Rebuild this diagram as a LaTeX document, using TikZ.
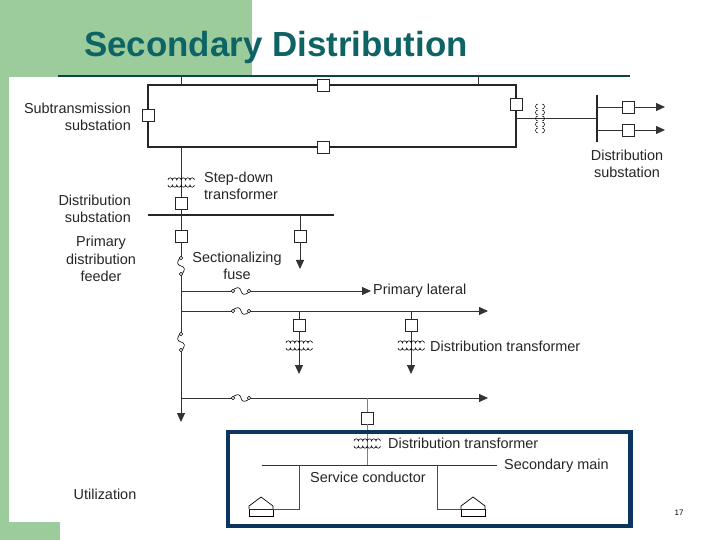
\documentclass[tikz,border=0pt]{standalone}
\usepackage{fontspec}
\setmainfont{Liberation Sans}
\usetikzlibrary{arrows.meta}
\definecolor{gr}{HTML}{9CCB9C}
\definecolor{teal}{HTML}{0E6464}
\definecolor{navy}{HTML}{0B3560}
\begin{document}
\begin{tikzpicture}[x=1bp,y=-1bp,
  lbl/.style={font=\fontsize{14.5}{17.5}\selectfont,text=black!85,inner sep=1pt,align=center},
  ln/.style={line width=0.8pt,black!80},
  brk/.style={draw=black!85,fill=white,minimum size=12bp,inner sep=0,line width=0.7pt},
  arr/.style={ln,-{Triangle[length=9bp,width=8bp]}},
  coil/.pic={\draw[line width=0.6pt] (-13,-2) arc(180:0:2.2bp) arc(180:0:2.2bp) arc(180:0:2.2bp) arc(180:0:2.2bp) arc(180:0:2.2bp) arc(180:0:2.2bp);
             \draw[line width=0.6pt] (-13,3) arc(180:360:2.2bp) arc(180:360:2.2bp) arc(180:360:2.2bp) arc(180:360:2.2bp) arc(180:360:2.2bp) arc(180:360:2.2bp);},
  hfuse/.pic={\fill[white] (-9,-3) rectangle (9,3);\draw[line width=0.6pt] (-9,0) .. controls (-4,-5) and (-1,-4) .. (0,0) .. controls (1,4) and (4,5) .. (9,0); \draw[line width=0.5pt,fill=white] (-8,0) circle(1.8bp) (8,0) circle(1.8bp);},
  vfuse/.pic={\fill[white] (-3,-9) rectangle (3,9);\draw[line width=0.6pt] (0,-9) .. controls (-5,-4) and (-4,-1) .. (0,0) .. controls (4,1) and (5,4) .. (0,9); \draw[line width=0.5pt,fill=white] (0,-8) circle(1.8bp) (0,8) circle(1.8bp);},
  house/.pic={\draw[line width=0.7pt,fill=white] (-12,0) rectangle (12,-7); \draw[line width=0.7pt,fill=white] (-12,-7) -- (-12,-10) -- (0,-19) -- (12,-10) -- (12,-7);}
]
\useasboundingbox (0,0) rectangle (720,540);
\fill[white] (0,0) rectangle (720,540);
\fill[gr] (0,0) rectangle (252,77);
\fill[gr] (0,0) rectangle (9,540);
\fill[gr] (0,522) rectangle (60,540);
\draw[teal!70!black,line width=1.3pt] (58,76) -- (630,76);
\node[font=\bfseries\fontsize{35}{38}\selectfont,text=teal] (title) at (276,47) {Secondary Distribution};

% ring
\draw[line width=1.6pt,black!85] (148,85) rectangle (516,147);
\draw[ln] (181,76) -- (181,85) (478,76) -- (478,85);
\node[brk] (b1) at (323,85) {};
\node[brk] (b2) at (148,115) {};
\node[brk] (b3) at (323,147) {};
\node[brk] (b4) at (516,104) {};
\node[lbl,align=right,anchor=east] (subt) at (132,117) {Subtransmission\\substation};

% right distribution substation
\coordinate (rt) at (516,118);
\coordinate (rb) at (597,118);
\draw[ln] (rt) -- (rb);
\foreach \yy in {104,110,116,122,128}{\draw[line width=0.5pt] (542,\yy) arc(90:-90:2.5bp); \draw[line width=0.5pt] (538,\yy) arc(90:270:2.5bp);}
\draw[line width=1.2pt,black!85] (597,95) -- (597,142);
\node[brk] (d1) at (628,107) {};
\node[brk] (d2) at (628,130) {};
\coordinate (e1) at (665,107);
\coordinate (e2) at (665,130);
\draw[arr] (597,107) -- (d1) -- (e1);
\draw[arr] (597,130) -- (d2) -- (e2);
\node[lbl] (ds) at (627,164) {Distribution\\substation};

% step-down
\node[brk] (sd) at (181,203) {};
\draw[ln] (181,147) -- (sd);
\pic at (181,182) {coil};
\node[lbl,align=left,anchor=west] (sdt) at (203,186) {Step-down\\transformer};
\draw[line width=1.4pt,black!85] (148,215) -- (334,215);
\draw[ln] (sd) -- (181,215);
\node[lbl,align=right,anchor=east] (dsub) at (132,209) {Distribution\\substation};

% branches from bus
\node[brk] (p1) at (181,236) {};
\node[brk] (p2) at (300,236) {};
\coordinate (p2e) at (300,269);
\draw[ln] (181,215) -- (p1);
\draw[arr] (300,215) -- (p2) -- (p2e);
\node[lbl] (pdf) at (101,259) {Primary\\distribution\\feeder};
\coordinate (mainend) at (181,422);
\draw[arr] (p1) -- (mainend);
\pic at (181,266) {vfuse};
\pic at (181,342) {vfuse};
\node[lbl] (sfu) at (237,266) {Sectionalizing\\fuse};

% laterals
\coordinate (l1) at (371,291);
\draw[arr] (181,291) -- (l1);
\pic at (241,291) {hfuse};
\node[lbl,anchor=west] (pl) at (372,291) {Primary lateral};
\coordinate (l2) at (488,311);
\draw[arr] (181,311) -- (l2);
\pic at (241,311) {hfuse};
\node[brk] (t1) at (299,325) {};
\node[brk] (t2) at (411,325) {};
\coordinate (t1e) at (299,374);
\coordinate (t2e) at (411,374);
\draw[arr] (299,311) -- (t1) -- (t1e);
\draw[arr] (411,311) -- (t2) -- (t2e);
\pic at (299,345) {coil};
\pic at (411,345) {coil};
\node[lbl,anchor=west] (dtt) at (429,346) {Distribution transformer};
\coordinate (l3) at (488,398);
\draw[arr] (181,398) -- (l3);
\pic at (241,398) {hfuse};
\node[brk] (t3) at (367,418) {};
\draw[line width=0.8pt,black!50] (367,398) -- (t3) -- (367,465);

% utilization box
\draw[navy,line width=5pt] (228,432) rectangle (630,526);
\pic at (367,443) {coil};
\node[lbl,anchor=west] (dt2) at (387,443) {Distribution transformer};
\draw[ln] (262,465) -- (497,465);
\node[lbl,anchor=west] (sm) at (503,466) {Secondary main};
\node[lbl] (sc) at (368,477) {Service conductor};
\pic (h1) at (261,516) {house};
\pic (h2) at (473,516) {house};
\draw[line width=0.7pt,black!70] (299,465) -- (299,509) -- (273,509);
\draw[line width=0.7pt,black!70] (437,465) -- (437,509) -- (461,509);
\node[lbl] (ut) at (105,494) {Utilization};
\node[font=\fontsize{8}{9}\selectfont] (pg) at (679,513) {17};
\end{tikzpicture}
\end{document}
